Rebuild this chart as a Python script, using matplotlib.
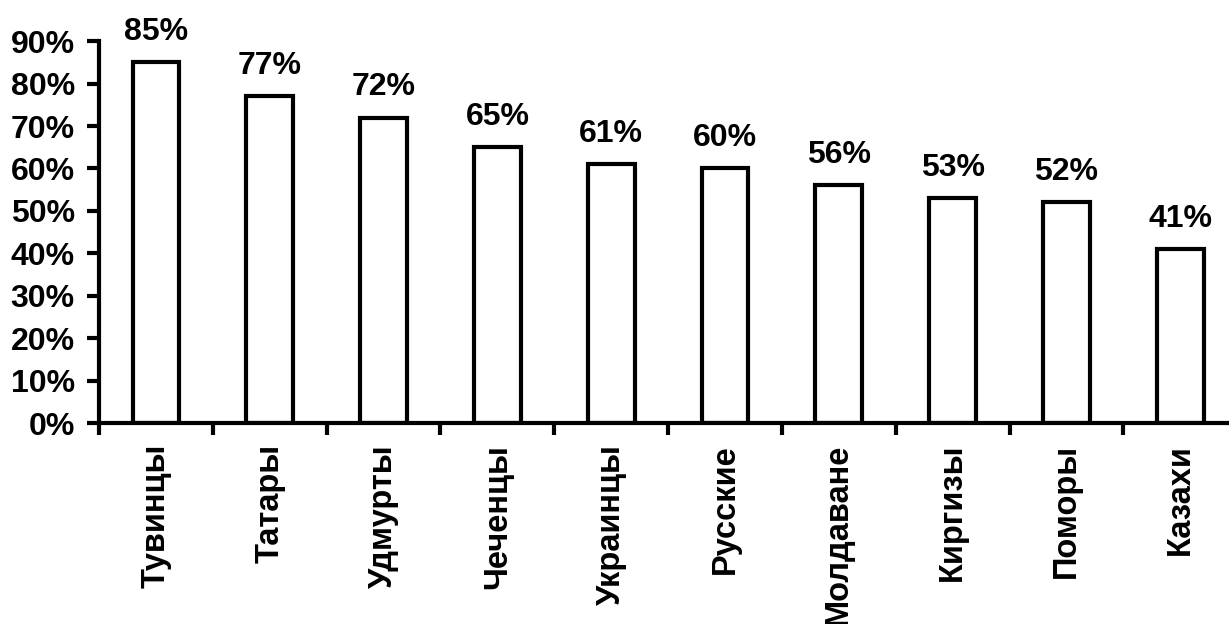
import matplotlib.pyplot as plt
import numpy as np
from matplotlib.ticker import FixedLocator, PercentFormatter

groups = ['Тувинцы', 'Татары', 'Удмурты', 'Чеченцы', 'Украинцы',
          'Русские', 'Молдаване', 'Киргизы', 'Поморы', 'Казахи']
shares = [85, 77, 72, 65, 61, 60, 56, 53, 52, 41]

plt.rcParams['font.family'] = ['Liberation Sans', 'DejaVu Sans']
plt.rcParams['font.weight'] = 'bold'

fig = plt.figure(figsize=(12.29, 6.24), dpi=100)
ax = fig.add_axes([0.0806, 0.322, 0.926, 0.612])

x = np.arange(len(groups))
bars = ax.bar(x, shares, width=0.41, color='white', edgecolor='black', linewidth=3.0)

for xi, val in zip(x, shares):
    ax.annotate(f'{val}%', (xi, val), xytext=(0, 11), textcoords='offset points',
                ha='center', va='bottom', fontsize=23, fontweight='bold')

ax.set_xlim(-0.5, len(groups) - 0.5)
ax.set_ylim(0, 90)
ax.set_yticks(np.arange(0, 91, 10))
ax.yaxis.set_major_formatter(PercentFormatter(decimals=0))

# labels sit at bar centres, tick marks sit between categories
ax.set_xticks(x)
ax.set_xticklabels(groups, rotation=90, fontsize=23.5, fontweight='bold')
ax.xaxis.set_minor_locator(FixedLocator(np.arange(-0.5, len(groups), 1.0)))
ax.tick_params(axis='x', which='major', length=0, pad=15)
ax.tick_params(axis='x', which='minor', length=8.5, width=3.0, direction='out')
ax.tick_params(axis='y', length=8.5, width=3.0, direction='out', pad=9, labelsize=23)
for lbl in ax.get_yticklabels():
    lbl.set_fontweight('bold')

for side in ('top', 'right'):
    ax.spines[side].set_visible(False)
for side in ('left', 'bottom'):
    ax.spines[side].set_linewidth(3.0)

fig.savefig('out.png', dpi=100)
